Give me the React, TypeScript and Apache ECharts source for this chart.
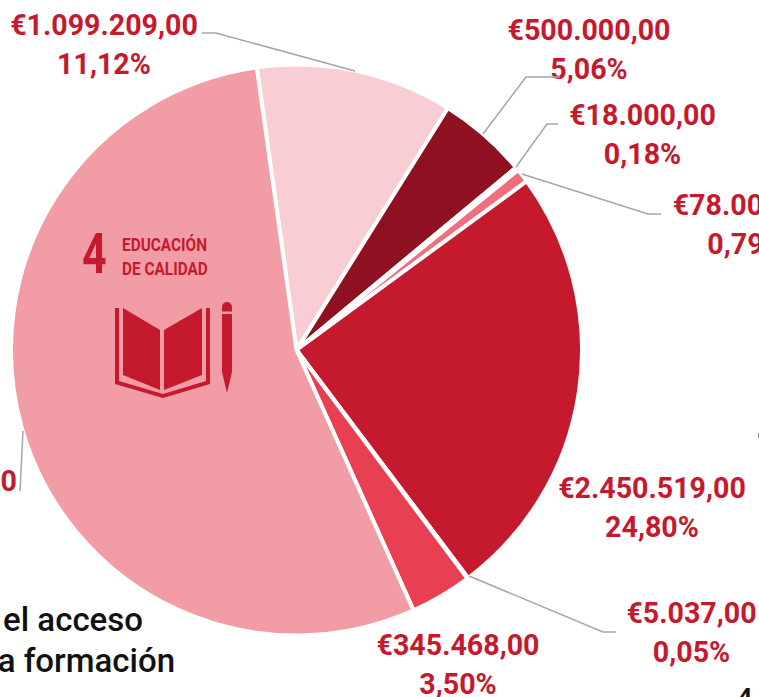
import React, { useEffect, useRef } from "react";
import * as echarts from "echarts";

const categories = ["A", "B", "C", "D", "E", "F", "G", "H"];
const amounts = [1099209, 500000, 18000, 78000, 2450519, 5037, 345468, 5385767];
const amountLabels = ["€1.099.209,00", "€500.000,00", "€18.000,00", "€78.000,00", "€2.450.519,00", "€5.037,00", "€345.468,00", "€5.385.767,00"];
const percentLabels = ["11,12%", "5,06%", "0,18%", "0,79%", "24,80%", "0,05%", "3,50%", "54,50%"];
const sliceColors = ["#f9cdd4", "#8f1020", "#f9cdd4", "#f06e7d", "#c51a2e", "#f9cdd4", "#e83f52", "#f29ca6"];

const labelAnchors: [number, number][] = [[104, 44], [589, 49], [642.5, 134.5], [746, 224], [652, 507.5], [691.5, 632], [458, 664.5], [-77, 500]];
const leaderLines: number[][][] = [
  [[202, 33], [216, 33], [355, 71]],
  [[560, 77], [526, 77], [483, 134]],
  [[558, 124], [547, 124], [516, 167]],
  [[661, 214], [648, 214], [522, 174]],
  [[616, 632], [603, 632], [469, 576]],
  [[20, 491], [23, 431]],
];

const bookPath = "M1 1 L5 1 L5 74 L49 87 L92 74 L92 1 L96 1 L96 77 L49 91 L1 77 Z M9 1 L46 23 L46 83 L9 68 Z M50 23 L88 1 L88 68 L50 83 Z";
const pencilPath = "M0 5 A5 5 0 0 1 10 5 L10 9.5 L0 9.5 Z M0 12 L10 12 L10 70 L5 91 L0 70 Z";
echarts.graphic.registerShape("sdgBook", echarts.graphic.extendPath(bookPath as any, {}) as any);
echarts.graphic.registerShape("sdgPencil", echarts.graphic.extendPath(pencilPath as any, {}) as any);

export default function App() {
  const ref = useRef<HTMLDivElement>(null);
  useEffect(() => {
    const chart = echarts.init(ref.current!, undefined, { renderer: "svg" });
    const font = "Roboto";
    const red = "#c51a2e";
    chart.setOption({
      animation: false,
      backgroundColor: "#fff",
      graphic: [
        ...leaderLines.map((points) => ({
          type: "polyline",
          z: 10,
          shape: { points },
          style: { stroke: "#a6a6a6", lineWidth: 1.5, fill: "none" },
        })),
        { type: "text", z: 10, x: 82, y: 227, scaleX: 0.78, style: { text: "4", fontFamily: font, fontWeight: "bold", fontSize: 55, fill: red } },
        { type: "text", z: 10, x: 122, y: 235, scaleX: 0.81, style: { text: "EDUCACIÓN", fontFamily: font, fontWeight: "bold", fontSize: 19, fill: red } },
        { type: "text", z: 10, x: 122, y: 259, scaleX: 0.81, style: { text: "DE CALIDAD", fontFamily: font, fontWeight: "bold", fontSize: 19, fill: red } },
        { type: "sdgBook", z: 10, x: 114, y: 307, style: { fill: red } },
        { type: "sdgPencil", z: 10, x: 222, y: 302, style: { fill: red } },
        { type: "text", z: 10, x: 143, y: 602.5, style: { text: "el acceso", align: "right", fontFamily: font, fontWeight: 500, fontSize: 33, fill: "#111" } },
        { type: "text", z: 10, x: 175, y: 643.5, style: { text: "a formación", align: "right", fontFamily: font, fontWeight: 500, fontSize: 33, fill: "#111" } },
        { type: "text", z: 10, x: 736, y: 683, style: { text: "4", fontFamily: font, fontWeight: 500, fontSize: 30, fill: "#111" } },
        { type: "rect", z: 10, shape: { x: 758, y: 433, width: 1, height: 5 }, style: { fill: "#8a8a8a" } },
      ],
      series: [
        {
          type: "pie",
          center: [296.5, 350],
          radius: [0, 285.5],
          startAngle: 98,
          minAngle: 0,
          avoidLabelOverlap: false,
          itemStyle: { borderColor: "#fff", borderWidth: 4 },
          labelLine: { show: false },
          label: {
            show: true,
            position: "outside",
            formatter: (p: any) => `${amountLabels[p.dataIndex]}\n${percentLabels[p.dataIndex]}`,
            fontFamily: font,
            fontWeight: "bold",
            fontSize: 28.6,
            lineHeight: 39,
            align: "center",
            color: red,
          },
          labelLayout: (p: any) => ({
            x: labelAnchors[p.dataIndex][0],
            y: labelAnchors[p.dataIndex][1],
            align: "center",
            verticalAlign: "middle",
          }),
          data: categories.map((name, i) => ({
            name,
            value: amounts[i],
            itemStyle: { color: sliceColors[i] },
          })),
        },
      ],
    });
    return () => chart.dispose();
  }, []);
  return <div ref={ref} style={{ position: "absolute", left: 0, top: 0, width: 759, height: 697, overflow: "hidden" }} />;
}
